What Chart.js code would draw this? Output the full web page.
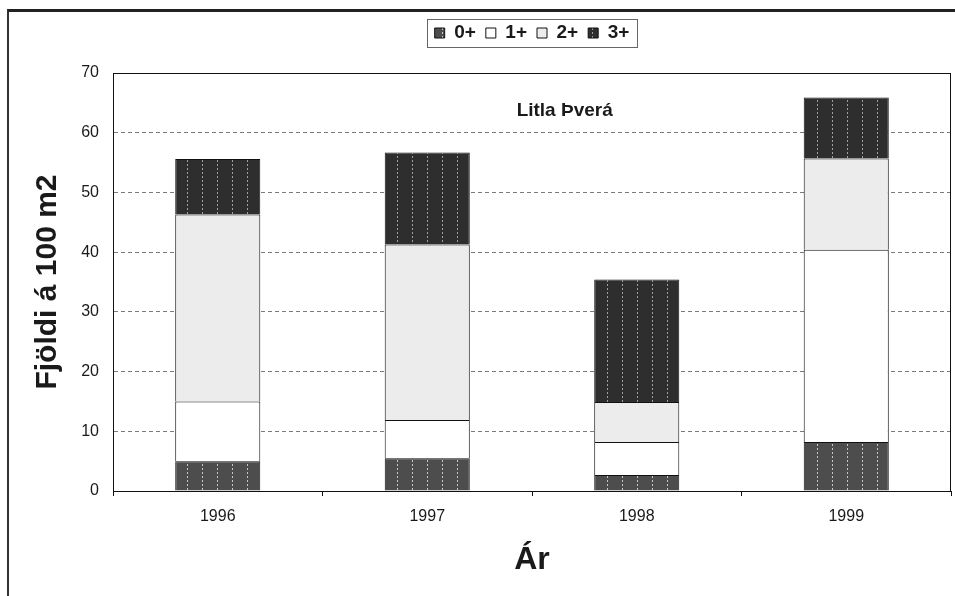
<!DOCTYPE html>
<html>
<head>
<meta charset="utf-8">
<script src="https://cdn.jsdelivr.net/npm/chart.js@4.4.1/dist/chart.umd.min.js"></script>
<style>
  html, body { margin: 0; padding: 0; background: #fff; }
  #wrap { position: relative; width: 955px; height: 596px; overflow: hidden; }
  #frame { position: absolute; left: 7px; top: 9px; right: -5px; bottom: -5px;
           border-top: 3px solid #222; border-left: 2px solid #333; pointer-events: none; }
</style>
</head>
<body>
<div id="wrap">
  <canvas id="chart" width="955" height="596"></canvas>
  <div id="frame"></div>
</div>
<script>
// values (fish per 100 m2, stacked by age class)
const years = ['1996', '1997', '1998', '1999'];
const ageClasses = ['0+', '1+', '2+', '3+'];
const age0 = [5.0, 5.5, 2.7, 8.2];
const age1 = [10.0, 6.4, 5.5, 32.2];
const age2 = [31.3, 29.4, 6.7, 15.3];
const age3 = [9.3, 15.4, 20.5, 10.2];
const yMax = 70;
const yStep = 10;

const FONT = '"Liberation Sans", Arial, sans-serif';
Chart.defaults.font.family = FONT;
Chart.defaults.color = '#1a1a1a';

const canvas = document.getElementById('chart');
const ctx = canvas.getContext('2d');

// dark fill with dotted light vertical stripes, like the photocopied hatch
function stripes(base, line) {
  const c = document.createElement('canvas');
  c.width = 15;
  c.height = 4;
  const g = c.getContext('2d');
  g.fillStyle = base;
  g.fillRect(0, 0, 15, 4);
  g.fillStyle = line;
  g.fillRect(7, 0, 1, 2);
  return ctx.createPattern(c, 'repeat');
}

const fills = [
  stripes('#4d4d4d', '#c8c8c8'),
  '#ffffff',
  '#ececec',
  stripes('#2e2e2e', '#a0a0a0')
];

const series = [age0, age1, age2, age3];

// leave some room under the legend
const legendGap = {
  id: 'legendGap',
  beforeInit(chart) {
    const fit = chart.legend.fit;
    chart.legend.fit = function () {
      fit.call(this);
      this.height += 20.5;
    };
  }
};

const extras = {
  id: 'extras',
  afterDraw(chart) {
    const { ctx, chartArea: a, legend } = chart;
    ctx.save();
    // plot area frame
    ctx.strokeStyle = '#111';
    ctx.lineWidth = 1;
    ctx.strokeRect(a.left + 0.5, a.top + 0.5, a.width - 1, a.height);
    // caption inside the plot
    ctx.font = 'bold 19px ' + FONT;
    ctx.fillStyle = '#1a1a1a';
    ctx.textAlign = 'center';
    ctx.textBaseline = 'middle';
    ctx.fillText('Litla Þverá', a.left + a.width * 0.539, a.top + 38);
    // box round the legend
    const hb = legend.legendHitBoxes;
    if (hb && hb.length) {
      const l = Math.min(...hb.map(h => h.left)) - 8;
      const r = Math.max(...hb.map(h => h.left + h.width)) + 7;
      const t = hb[0].top - 4.5;
      const b = hb[0].top + hb[0].height + 4.5;
      ctx.strokeStyle = '#666';
      ctx.strokeRect(Math.round(l) + 0.5, Math.round(t) + 0.5, Math.round(r - l), Math.round(b - t));
    }
    ctx.restore();
  }
};

new Chart(ctx, {
  type: 'bar',
  data: {
    labels: years,
    datasets: ageClasses.map((name, i) => ({
      label: name,
      data: series[i],
      backgroundColor: fills[i],
      borderColor: '#111',
      borderWidth: 1,
      barPercentage: 0.406,
      categoryPercentage: 1
    }))
  },
  options: {
    responsive: false,
    animation: false,
    devicePixelRatio: 1,
    layout: { padding: { top: 13.5, left: 30, right: 4, bottom: 17 } },
    plugins: {
      tooltip: { enabled: false },
      legend: {
        position: 'top',
        fullSize: false,
        labels: {
          boxWidth: 10,
          boxHeight: 10,
          padding: 10,
          color: '#1a1a1a',
          font: { size: 19, weight: 'bold' }
        }
      }
    },
    scales: {
      x: {
        stacked: true,
        grid: { offset: true, drawOnChartArea: false, drawTicks: true, tickLength: 5, color: '#111' },
        border: { display: true, color: '#111' },
        ticks: { color: '#1a1a1a', font: { size: 16 }, padding: 11 },
        title: { display: true, text: 'Ár', font: { size: 32, weight: 'bold' }, padding: 0 },
        afterFit(scale) { scale.height = 88; }
      },
      y: {
        stacked: true,
        min: 0,
        max: yMax,
        grid: { color: '#7a7a7a', drawTicks: false },
        border: { display: true, color: '#111', dash: [4, 3] },
        ticks: { stepSize: yStep, color: '#1a1a1a', font: { size: 16 }, padding: 14 },
        title: { display: true, text: 'Fjöldi á 100 m2', font: { size: 30, weight: 'bold' }, padding: 0 },
        afterFit(scale) { scale.width = 83; }
      }
    }
  },
  plugins: [legendGap, extras]
});
</script>
</body>
</html>
